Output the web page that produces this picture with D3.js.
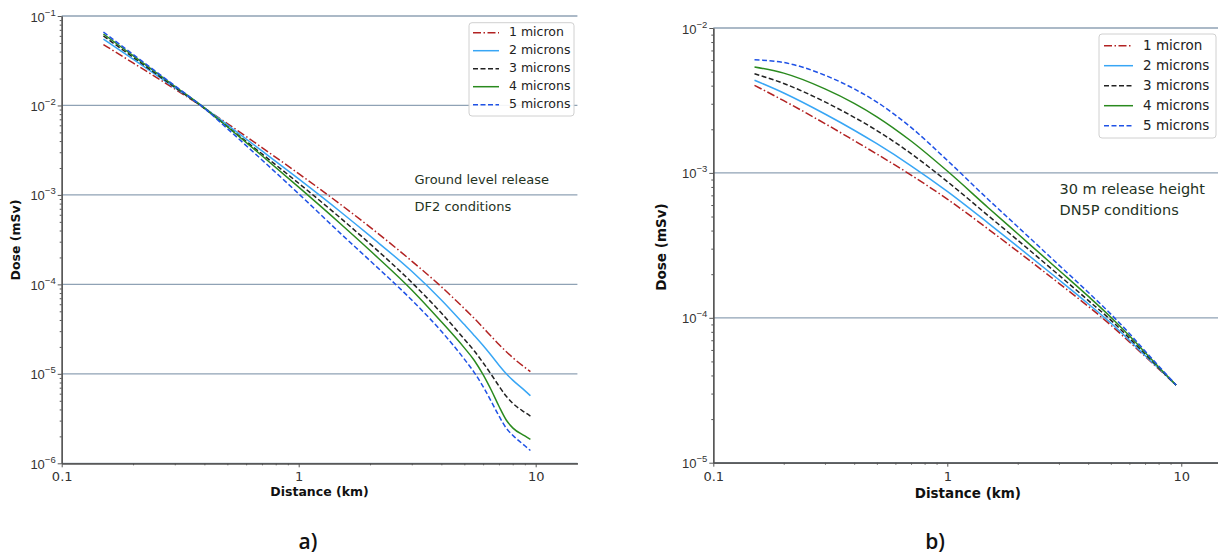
<!DOCTYPE html>
<html>
<head>
<meta charset="utf-8">
<script src="https://cdn.jsdelivr.net/npm/d3@7"></script>
<style>
    body { margin: 0; background: #fff; }
    svg { display: block; font-family: "DejaVu Sans", sans-serif; }
</style>
</head>
<body>
<div id="chart"></div>
<script>

// particle sizes (legend)
const sizeLabels = ["1 micron", "2 microns", "3 microns", "4 microns", "5 microns"];

// axis ticks
const xTickValues = [0.1, 1, 10];
const xTickLabels = ["0.1", "1", "10"];
const leftYExponents = [-1, -2, -3, -4, -5, -6];
const rightYExponents = [-2, -3, -4, -5];

// a) ground level release, DF2 conditions
const leftDistance = [0.15, 0.2, 0.3, 0.4, 0.5, 0.7, 1, 1.5, 2, 3, 4, 5, 5.5, 6, 6.5, 7, 7.5, 8, 9, 9.5];
const leftDose1 = [0.048, 0.0299, 0.0153, 0.00935, 0.00628, 0.00338, 0.00173, 0.000785, 0.000436, 0.000182, 0.000094, 0.0000537, 0.0000418, 0.0000328, 0.0000262, 0.0000213, 0.0000178, 0.0000152, 0.0000118, 0.0000106];
const leftDose2 = [0.0553, 0.0329, 0.0158, 0.00938, 0.00607, 0.0031, 0.00151, 0.000649, 0.000348, 0.00014, 0.000067, 0.0000355, 0.0000269, 0.0000207, 0.000016, 0.0000125, 0.0000101, 0.0000085, 0.0000065, 0.0000057];
const leftDose3 = [0.0598, 0.0346, 0.016, 0.00927, 0.00582, 0.00287, 0.00135, 0.000552, 0.000284, 0.000105, 0.0000478, 0.0000244, 0.0000181, 0.0000133, 0.0000098, 0.0000073, 0.00000565, 0.00000469, 0.00000371, 0.00000337];
const leftDose4 = [0.0629, 0.036, 0.0164, 0.0094, 0.00578, 0.00274, 0.00122, 0.000476, 0.000239, 0.0000867, 0.0000382, 0.0000195, 0.0000142, 0.0000098, 0.00000655, 0.00000434, 0.00000307, 0.00000249, 0.00000202, 0.00000185];
const leftDose5 = [0.0662, 0.0372, 0.0166, 0.0093, 0.00551, 0.00246, 0.00103, 0.000372, 0.000184, 0.0000668, 0.0000299, 0.0000146, 0.0000104, 0.0000072, 0.00000489, 0.00000338, 0.00000249, 0.00000206, 0.00000157, 0.00000139];

// b) 30 m release height, DN5P conditions
const rightDistance = [0.15, 0.2, 0.3, 0.4, 0.5, 0.7, 1, 1.5, 2, 3, 4, 5, 6, 7, 8, 9.5];
const rightDose1 = [0.00402, 0.00315, 0.00219, 0.00167, 0.00135, 0.000966, 0.000659, 0.000408, 0.000287, 0.000173, 0.00012, 0.000089, 0.0000682, 0.0000542, 0.0000444, 0.0000343];
const rightDose2 = [0.00436, 0.00356, 0.00255, 0.00197, 0.00159, 0.00112, 0.000746, 0.000449, 0.00031, 0.000183, 0.000125, 0.000092, 0.00007, 0.000055, 0.0000448, 0.0000343];
const rightDose3 = [0.00483, 0.00414, 0.00309, 0.00242, 0.00196, 0.00136, 0.000871, 0.000505, 0.000343, 0.000197, 0.000132, 0.0000964, 0.0000724, 0.0000564, 0.0000453, 0.0000343];
const rightDose4 = [0.00538, 0.00488, 0.0038, 0.00302, 0.00244, 0.00166, 0.00103, 0.000573, 0.00038, 0.000213, 0.000141, 0.000101, 0.0000752, 0.0000577, 0.0000458, 0.0000344];
const rightDose5 = [0.00604, 0.00578, 0.00472, 0.0038, 0.00308, 0.00206, 0.00122, 0.000653, 0.000425, 0.000231, 0.00015, 0.000106, 0.000078, 0.000059, 0.0000465, 0.0000344];

// line styles, one per particle size
const lineStyles = [
    {color: "#b22222", dash: "8,2.5,1.5,2.5"},
    {color: "#38a6f5", dash: null},
    {color: "#222222", dash: "5,2.5"},
    {color: "#2a8a1e", dash: null},
    {color: "#1f52e6", dash: "5,2.5"}
];


class DosePanel {

    constructor(svg, config, distance, doseSeries) {
        this.svg = svg;
        this.config = config;
        this.distance = distance;
        this.doseSeries = doseSeries;

        this.initVis();
    }

    initVis() {
        let vis = this;
        let c = vis.config;

        vis.x = d3.scaleLog().domain([0.1, 15]).range([c.left, c.left + 2.176 * c.decadeX]);
        vis.y = d3.scaleLog().domain(c.yDomain).range([c.bottom, c.top]);

        vis.g = vis.svg.append("g");

        // horizontal grid lines at the decades
        vis.g.selectAll(".grid")
            .data(c.yExponents)
            .enter().append("line")
            .attr("class", "grid")
            .attr("x1", c.left)
            .attr("x2", vis.x.range()[1])
            .attr("y1", d => vis.y(Math.pow(10, d)))
            .attr("y2", d => vis.y(Math.pow(10, d)))
            .attr("stroke", "#8fa2b5")
            .attr("stroke-width", 1.3);

        // minor ticks (log scale)
        let yMinor = [];
        c.yExponents.slice(1).forEach(e => {
            for (let k = 2; k <= 9; k++) yMinor.push(k * Math.pow(10, e));
        });
        let xMinor = [];
        [-1, 0, 1].forEach(e => {
            for (let k = 2; k <= 9; k++) {
                let v = k * Math.pow(10, e);
                if (v < 15) xMinor.push(v);
            }
        });

        vis.g.append("g")
            .attr("class", "axis y-minor")
            .attr("transform", `translate(${c.left},0)`)
            .call(d3.axisLeft(vis.y).tickValues(yMinor).tickSize(2).tickSizeOuter(0).tickFormat(""));

        vis.g.append("g")
            .attr("class", "axis x-minor")
            .attr("transform", `translate(0,${c.bottom})`)
            .call(d3.axisBottom(vis.x).tickValues(xMinor).tickSize(2).tickSizeOuter(0).tickFormat(""));

        // major y axis with 10^n labels
        vis.yAxis = vis.g.append("g")
            .attr("class", "axis y-axis")
            .attr("transform", `translate(${c.left},0)`)
            .call(d3.axisLeft(vis.y)
                .tickValues(c.yExponents.map(e => Math.pow(10, e)))
                .tickSize(4).tickSizeOuter(0).tickFormat(""));

        vis.yAxis.selectAll(".tick").each(function (d, i) {
            let t = d3.select(this).append("text")
                .attr("x", -6)
                .attr("y", 5)
                .attr("text-anchor", "end")
                .attr("fill", "#333")
                .attr("font-size", 13);
            t.append("tspan").text("10");
            t.append("tspan")
                .attr("dy", -6)
                .attr("font-size", 9.5)
                .text("\u2212" + Math.abs(c.yExponents[i]));
        });

        // major x axis
        vis.g.append("g")
            .attr("class", "axis x-axis")
            .attr("transform", `translate(0,${c.bottom})`)
            .call(d3.axisBottom(vis.x)
                .tickValues(xTickValues)
                .tickSize(4).tickSizeOuter(0)
                .tickFormat((d, i) => xTickLabels[i]))
            .selectAll("text")
            .attr("dy", 0)
            .attr("y", 18)
            .attr("fill", "#333")
            .attr("font-size", 13)
            .attr("font-family", "DejaVu Sans");

        vis.g.selectAll(".axis path.domain").attr("stroke", "#555").attr("stroke-width", 1.3);
        vis.g.selectAll(".axis .tick line").attr("stroke", "#555");

        // axis titles
        vis.g.append("text")
            .attr("x", (vis.x.range()[0] + vis.x.range()[1]) / 2)
            .attr("y", c.xTitleY)
            .attr("text-anchor", "middle")
            .attr("font-weight", "bold")
            .attr("font-size", c.titleSize)
            .attr("fill", "#111")
            .text("Distance (km)");

        vis.g.append("text")
            .attr("transform", `translate(${c.yTitleX},${c.yTitleY}) rotate(-90)`)
            .attr("text-anchor", "middle")
            .attr("dominant-baseline", "middle")
            .attr("font-weight", "bold")
            .attr("font-size", c.titleSize)
            .attr("fill", "#111")
            .text("Dose (mSv)");

        // dose curves
        vis.line = d3.line()
            .x(d => vis.x(d[0]))
            .y(d => vis.y(d[1]))
            .curve(d3.curveMonotoneX);

        vis.g.selectAll(".dose-line")
            .data(vis.doseSeries)
            .enter().append("path")
            .attr("class", "dose-line")
            .attr("d", s => vis.line(vis.distance.map((dist, j) => [dist, s[j]])))
            .attr("fill", "none")
            .attr("stroke", (s, i) => lineStyles[i].color)
            .attr("stroke-width", 1.5)
            .attr("stroke-dasharray", (s, i) => lineStyles[i].dash);

        // annotation
        c.note.forEach((txt, i) => {
            vis.g.append("text")
                .attr("x", c.noteX)
                .attr("y", c.noteY[i])
                .attr("dominant-baseline", "middle")
                .attr("font-size", c.noteSize)
                .attr("fill", "#1f331f")
                .text(txt);
        });

        // legend
        let lg = c.legend;
        let legend = vis.g.append("g").attr("class", "legend");
        legend.append("rect")
            .attr("x", lg.x).attr("y", lg.y)
            .attr("width", lg.w).attr("height", lg.h)
            .attr("rx", 3)
            .attr("fill", "#fff")
            .attr("fill-opacity", 0.9)
            .attr("stroke", "#d0d0d0");

        let rows = legend.selectAll(".row")
            .data(sizeLabels)
            .enter().append("g")
            .attr("class", "row")
            .attr("transform", (d, i) => `translate(0,${lg.firstRow + i * lg.rowGap})`);

        rows.append("line")
            .attr("x1", lg.lineX1).attr("x2", lg.lineX2)
            .attr("stroke", (d, i) => lineStyles[i].color)
            .attr("stroke-width", 1.5)
            .attr("stroke-dasharray", (d, i) => lineStyles[i].dash);

        rows.append("text")
            .attr("x", lg.textX)
            .attr("dominant-baseline", "middle")
            .attr("font-size", lg.fontSize)
            .attr("fill", "#222")
            .text(d => d);

        // panel letter
        vis.g.append("text")
            .attr("x", c.letterX)
            .attr("y", 543)
            .attr("text-anchor", "middle")
            .attr("dominant-baseline", "middle")
            .attr("font-family", "Open Sans")
            .attr("font-weight", 600)
            .attr("font-size", 21)
            .attr("fill", "#111")
            .text(c.letter);
    }
}


let svg = d3.select("#chart").append("svg")
    .attr("width", 1218)
    .attr("height", 554);

new DosePanel(svg, {
    left: 61.7, decadeX: 237, top: 16, bottom: 463.3,
    yDomain: [1e-6, 1e-1], yExponents: leftYExponents,
    xTitleY: 496, yTitleX: 16.5, yTitleY: 240, titleSize: 12.5,
    note: ["Ground level release", "DF2 conditions"], noteX: 414.5, noteY: [180.5, 207.5], noteSize: 13,
    legend: {x: 469, y: 22.7, w: 105, h: 93.3, firstRow: 32.7, rowGap: 18,
             lineX1: 473, lineX2: 499, textX: 509, fontSize: 12.5},
    letter: "a)", letterX: 308
}, leftDistance, [leftDose1, leftDose2, leftDose3, leftDose4, leftDose5]);

new DosePanel(svg, {
    left: 713.3, decadeX: 234, top: 28, bottom: 462.7,
    yDomain: [1e-5, 1e-2], yExponents: rightYExponents,
    xTitleY: 498, yTitleX: 662, yTitleY: 247, titleSize: 13.5,
    note: ["30 m release height", "DN5P conditions"], noteX: 1059.5, noteY: [190, 211], noteSize: 14.5,
    legend: {x: 1099, y: 34, w: 117, h: 104, firstRow: 45.7, rowGap: 20,
             lineX1: 1104, lineX2: 1133, textX: 1143, fontSize: 13.5},
    letter: "b)", letterX: 935
}, rightDistance, [rightDose1, rightDose2, rightDose3, rightDose4, rightDose5]);

</script>
</body>
</html>
